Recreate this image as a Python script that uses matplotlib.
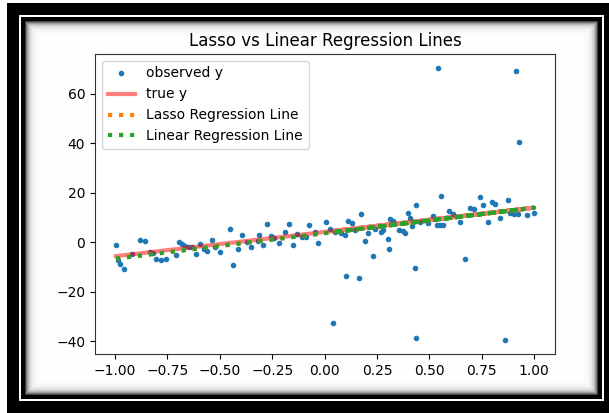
import numpy as np
import matplotlib
matplotlib.use("Agg")
import matplotlib.pyplot as plt

# ---------------- data ----------------
x_regular = [-0.996, -0.986, -0.975, -0.959, -0.919, -0.879, -0.858, -0.831, -0.821,
             -0.804, -0.783, -0.759, -0.711, -0.695, -0.679, -0.667, -0.647, -0.631,
             -0.615, -0.596, -0.575, -0.559, -0.535, -0.522, -0.499, -0.452, -0.435,
             -0.411, -0.392, -0.372, -0.351, -0.320, -0.312, -0.296, -0.275, -0.256,
             -0.240, -0.216, -0.188, -0.168, -0.149, -0.133, -0.107, -0.088, -0.072,
             -0.048, -0.032, 0.008, 0.024, 0.048, 0.080, 0.096, 0.112, 0.131, 0.144,
             0.173, 0.192, 0.208, 0.243, 0.268, 0.277, 0.304, 0.308, 0.312, 0.328,
             0.355, 0.372, 0.384, 0.399, 0.407, 0.419, 0.436, 0.455, 0.495, 0.516,
             0.535, 0.551, 0.555, 0.567, 0.596, 0.615, 0.647, 0.695, 0.711, 0.743,
             0.756, 0.778, 0.799, 0.815, 0.836, 0.874, 0.887, 0.903, 0.922, 0.964, 1.000]
y_regular = [-1.2, -7.3, -8.6, -10.6, -4.6, 1.1, 0.5, -3.9, -4.2,
             -6.6, -7.3, -6.9, -5.3, 0.1, -0.5, -1.6, -1.9, -1.9,
             -4.6, -0.8, -2.6, -3.5, 0.8, -1.9, -3.9, 5.3, -9.0,
             -2.6, 2.8, 0.1, -1.9, 0.4, 2.8, -1.2, 7.5, 2.4,
             1.9, -0.3, 4.2, 7.5, -1.2, 3.2, 2.2, 2.2, 6.9,
             4.2, -0.3, 8.2, 5.5, 4.2, 3.9, 3.1, 8.5, 7.8, 4.8,
             11.6, 0.4, 3.9, 5.5, 4.2, 5.1, 1.5, -2.8, 9.3, 8.5,
             4.8, 4.6, 3.9, 12.0, 10.0, 6.5, 14.9, 8.2, 7.8, 10.5,
             7.2, 7.2, 18.7, 7.2, 12.7, 11.6, 8.2, 14.0, 13.6, 18.3,
             14.9, 8.2, 16.3, 15.4, 9.8, 17.2, 12.0, 11.6, 11.6, 10.9, 12.0]
x_outlier = [0.040, 0.104, 0.165, 0.232, 0.431, 0.436, 0.543, 0.671, 0.863, 0.916, 0.930]
y_outlier = [-32.5, -13.5, -14.5, -5.7, -10.2, -38.5, 70.6, -6.9, -39.6, 69.2, 40.5]

# line coefficients [slope, intercept]
true_coef = [9.8, 4.2]
lasso_coef = [10.25, 3.72]
linear_coef = [10.3, 3.7]

labels = ["observed y", "true y", "Lasso Regression Line", "Linear Regression Line"]
title = "Lasso vs Linear Regression Lines"

x_obs = np.array(x_regular + x_outlier)
y_obs = np.array(y_regular + y_outlier)

# ---------------- figure ----------------
W, H = 609, 413
fig = plt.figure(figsize=(W / 100, H / 100), dpi=100)

# decorative frame (screenshot border with inner shadow)
img = np.ones((H, W)) * 255.0
img[3:H, 7:W] = 0
img[15:401, 19:604] = 255
img[17:399, 21:602] = 0
r0, r1, c0, c1 = 21, 395, 25, 598
rr, cc = np.mgrid[r0:r1, c0:c1]
d = np.minimum.reduce([rr - r0, r1 - 1 - rr, cc - c0, c1 - 1 - cc]).astype(float)
img[r0:r1, c0:c1] = 255 - 190 * np.exp(-d / 3.0)
rgb = np.repeat((img / 255.0)[:, :, None], 3, axis=2)
fig.figimage(rgb, xo=0, yo=0, origin="upper", zorder=-5)

ax = fig.add_axes([95 / W, (H - 354) / H, 460 / W, 300 / H])
ax.set_facecolor("white")

ax.plot(x_obs, y_obs, ".", color="C0", markersize=6, label=labels[0])
ax.plot(x_obs, true_coef[0] * x_obs + true_coef[1], color="r", alpha=0.5,
        linewidth=3, label=labels[1])
ax.plot(x_obs, lasso_coef[0] * x_obs + lasso_coef[1], ":", color="C1",
        linewidth=3, label=labels[2])
ax.plot(x_obs, linear_coef[0] * x_obs + linear_coef[1], ":", color="C2",
        linewidth=3, label=labels[3])

ax.set_xticks([-1.0, -0.75, -0.5, -0.25, 0.0, 0.25, 0.5, 0.75, 1.0])
ax.set_yticks([-40, -20, 0, 20, 40, 60])
ax.set_title(title, fontsize=12)
ax.tick_params(labelsize=10)
for s in ax.spines.values():
    s.set_color("#333333")
ax.legend(loc="upper left", fontsize=10)

fig.savefig("out.png", dpi=100)
